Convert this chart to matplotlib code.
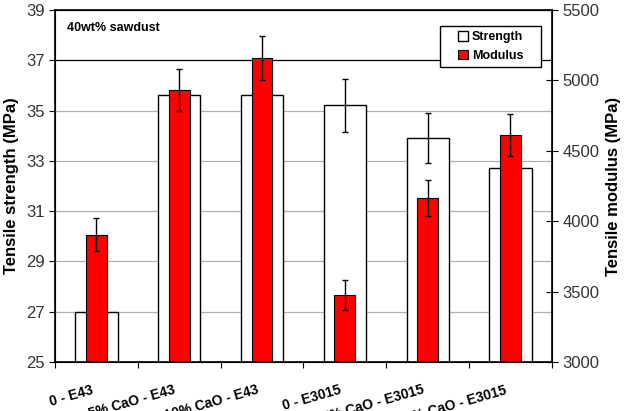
import numpy as np
import matplotlib
matplotlib.use("Agg")
import matplotlib.pyplot as plt
from matplotlib.patches import Rectangle

plt.rcParams['font.family'] = ['Liberation Sans', 'DejaVu Sans']

# data
labels = ["0 - E43", "5% CaO - E43", "10% CaO - E43",
          "0 - E3015", "5% CaO - E3015", "10% CaO - E3015"]
strength = [27.0, 35.6, 35.6, 35.2, 33.9, 32.7]
strength_err = [0.5, 0.15, 0.15, 1.06, 1.0, 0.9]
modulus = [3905, 4930, 5160, 3475, 4163, 4612]
modulus_err = [118, 150, 157, 107, 128, 150]

x = np.arange(len(labels))

fig = plt.figure(figsize=(6.25, 4.11), dpi=100)
ax1 = fig.add_axes([0.088, 0.119, 0.795, 0.857])
ax2 = ax1.twinx()

# strength: white bars, left axis
ax1.bar(x, strength, width=0.51, color='white', edgecolor='black', linewidth=1.0,
        yerr=strength_err, error_kw=dict(ecolor='black', elinewidth=1, capsize=2.5, capthick=1),
        label='Strength', zorder=2)
# modulus: red bars on top, right axis
ax2.bar(x, modulus, width=0.25, color='#ff0000', edgecolor='black', linewidth=0.8,
        yerr=modulus_err, error_kw=dict(ecolor='black', elinewidth=1, capsize=2.5, capthick=1),
        label='Modulus', zorder=2)

ax1.set_xlim(-0.5, len(labels) - 0.5)
ax1.set_ylim(25, 39)
ax1.set_yticks(np.arange(25, 40, 2))
ax2.set_ylim(3000, 5500)
ax2.set_yticks(np.arange(3000, 5501, 500))

ax1.yaxis.grid(True, color='#b0b0b0', linewidth=0.9, zorder=0)
ax1.set_axisbelow(True)
ax1.get_ygridlines()[6].set_color('black')

# category boundaries as x ticks, labels just left of the centres
ax1.set_xticks(np.arange(-0.5, len(labels)), minor=False)
ax1.set_xticklabels([])
ax1.set_xticks(x - 0.07, minor=True)
ax1.set_xticklabels(labels, minor=True, rotation=16, ha='right', va='top',
                    rotation_mode='anchor', fontsize=10, fontweight='bold')
ax1.tick_params(axis='x', which='minor', length=0, pad=15)
ax1.tick_params(axis='x', which='major', direction='out', length=4)
ax1.tick_params(axis='y', direction='out', length=4, labelsize=12, colors='black', labelcolor='#333333')
ax2.tick_params(axis='y', direction='inout', length=8, labelsize=12, labelcolor='#333333')

for sp in ['left', 'bottom', 'right', 'top']:
    ax2.spines[sp].set_linewidth(1.2)

ax1.set_ylabel('Tensile strength (MPa)', fontsize=12, fontweight='bold', labelpad=5)
ax2.set_ylabel('Tensile modulus (MPa)', fontsize=12, fontweight='bold', labelpad=5)

ax1.text(0.025, 0.965, '40wt% sawdust', transform=ax1.transAxes, fontsize=9,
         fontweight='bold', va='top', ha='left')

# legend box drawn separately so it can be wider than its content
bx, by, bw, bh = 0.775, 0.838, 0.203, 0.1165
ax2.add_patch(Rectangle((bx, by), bw, bh, transform=ax2.transAxes, facecolor='white',
                        edgecolor='black', linewidth=1.0, zorder=9, clip_on=False))
h1, l1 = ax1.get_legend_handles_labels()
h2, l2 = ax2.get_legend_handles_labels()
leg = ax2.legend(h1 + h2, l1 + l2, loc='center', bbox_to_anchor=(bx + bw / 2, by + bh / 2),
                 prop={'weight': 'bold', 'size': 9}, frameon=False,
                 handlelength=0.8, handleheight=0.8, handletextpad=0.3,
                 borderpad=0, labelspacing=0.5, borderaxespad=0)
leg.set_zorder(10)

fig.savefig('out.png', dpi=100)
